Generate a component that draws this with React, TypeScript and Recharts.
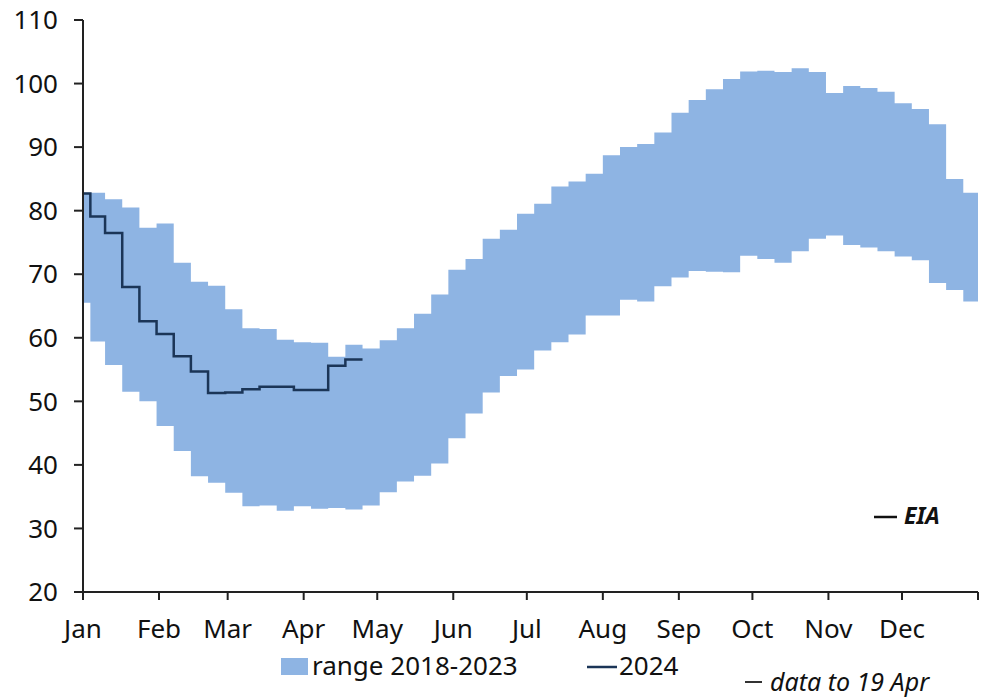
import { ComposedChart, Area, Line, XAxis, YAxis } from 'recharts';

// day of year for each weekly step (step drawn from that day on)
const days = [
  0, 3, 9, 16, 23, 30, 37, 44, 51, 58, 65, 72, 79, 86, 93, 100, 107, 114, 121, 128, 135, 142, 149,
  156, 163, 170, 177, 184, 191, 198, 205, 212, 219, 226, 233, 240, 247, 254, 261, 268, 275, 282,
  289, 296, 303, 310, 317, 324, 331, 338, 345, 352, 359, 365,
];

const rangeLow = [
  65.5, 59.4, 55.7, 51.5, 50.0, 46.1, 42.2, 38.2, 37.2, 35.6, 33.5, 33.6, 32.8, 33.5, 33.1, 33.2,
  33.0, 33.6, 35.7, 37.4, 38.3, 40.2, 44.2, 48.1, 51.4, 54.0, 55.0, 58.0, 59.3, 60.5, 63.5, 63.5,
  66.0, 65.7, 68.1, 69.5, 70.5, 70.4, 70.3, 72.9, 72.4, 71.8, 73.6, 75.6, 76.1, 74.6, 74.2, 73.6,
  72.8, 72.2, 68.6, 67.5, 65.7, 65.7,
];

const rangeHigh = [
  82.8, 82.8, 81.8, 80.5, 77.3, 78.0, 71.8, 68.8, 68.2, 64.5, 61.5, 61.4, 59.7, 59.3, 59.2, 57.0,
  58.9, 58.3, 59.6, 61.5, 63.8, 66.8, 70.7, 72.4, 75.6, 77.0, 79.5, 81.1, 83.8, 84.6, 85.8, 88.7,
  90.0, 90.5, 92.3, 95.4, 97.4, 99.1, 100.7, 101.9, 102.0, 101.8, 102.4, 101.8, 98.5, 99.6, 99.3,
  98.7, 96.9, 96.0, 93.6, 85.0, 82.8, 82.8,
];

// 2024 weekly values, data to 19 Apr (first 18 days entries)
const values2024 = [
  82.7, 79.1, 76.5, 68.0, 62.6, 60.6, 57.1, 54.7, 51.3, 51.4, 51.9, 52.3, 52.3, 51.8, 51.8, 55.6,
  56.6, 56.6,
];

const monthTicks = [0, 31, 59, 90, 120, 151, 181, 212, 243, 273, 304, 334, 365];
const monthLabels = ['Jan', 'Feb', 'Mar', 'Apr', 'May', 'Jun', 'Jul', 'Aug', 'Sep', 'Oct', 'Nov', 'Dec', ''];
const yTicks = [20, 30, 40, 50, 60, 70, 80, 90, 100, 110];

const data = days.map((d, i) => ({
  day: d,
  range: [rangeLow[i], rangeHigh[i]],
  y2024: i < values2024.length ? values2024[i] : null,
}));

const BAND = '#8EB4E3';
const NAVY = '#1B3557';
const FONT = 'Noto Sans';

export default function App() {
  return (
    <div style={{ position: 'absolute', left: 0, top: 0, width: 982, height: 697 }}>
      <ComposedChart width={982} height={697} data={data} margin={{ top: 20, right: 4, bottom: 0, left: 0 }}>
        <XAxis
          dataKey='day'
          type='number'
          domain={[0, 365]}
          ticks={monthTicks}
          tickFormatter={(v) => monthLabels[monthTicks.indexOf(v)]}
          interval={0}
          height={105}
          axisLine={{ stroke: '#222', strokeWidth: 2 }}
          tickLine={{ stroke: '#222', strokeWidth: 2 }}
          tickSize={8}
          tickMargin={20}
          tick={{ fill: '#111', fontSize: 26, fontFamily: FONT }}
        />
        <YAxis
          type='number'
          domain={[20, 110]}
          ticks={yTicks}
          interval={0}
          width={83}
          axisLine={{ stroke: '#222', strokeWidth: 2 }}
          tickLine={{ stroke: '#222', strokeWidth: 2 }}
          tickSize={9}
          tickMargin={16}
          tick={{ fill: '#111', fontSize: 26, fontFamily: FONT }}
        />
        <Area
          dataKey='range'
          type='stepAfter'
          fill={BAND}
          fillOpacity={1}
          stroke='none'
          isAnimationActive={false}
        />
        <Line
          dataKey='y2024'
          type='stepAfter'
          stroke={NAVY}
          strokeWidth={2.5}
          dot={false}
          activeDot={false}
          isAnimationActive={false}
        />
      </ComposedChart>
      <svg
        width={982}
        height={697}
        style={{ position: 'absolute', left: 0, top: 0, pointerEvents: 'none', fontFamily: FONT }}
      >
        <rect x={281} y={658} width={27} height={17} fill={BAND} />
        <text x={312} y={675} fontSize={26} fill='#111'>range 2018-2023</text>
        <line x1={587} x2={617} y1={667} y2={667} stroke={NAVY} strokeWidth={2.5} />
        <text x={619} y={675} fontSize={26} fill='#111'>2024</text>
        <line x1={874} x2={897} y1={517} y2={517} stroke='#111' strokeWidth={2.5} />
        <text x={904} y={524} fontSize={23} fontStyle='italic' fontWeight='bold' fill='#111'>EIA</text>
        <line x1={745} x2={762} y1={682} y2={682} stroke='#333' strokeWidth={2} />
        <text x={770} y={691} fontSize={25} fontStyle='italic' fill='#111'>data to 19 Apr</text>
      </svg>
    </div>
  );
}
